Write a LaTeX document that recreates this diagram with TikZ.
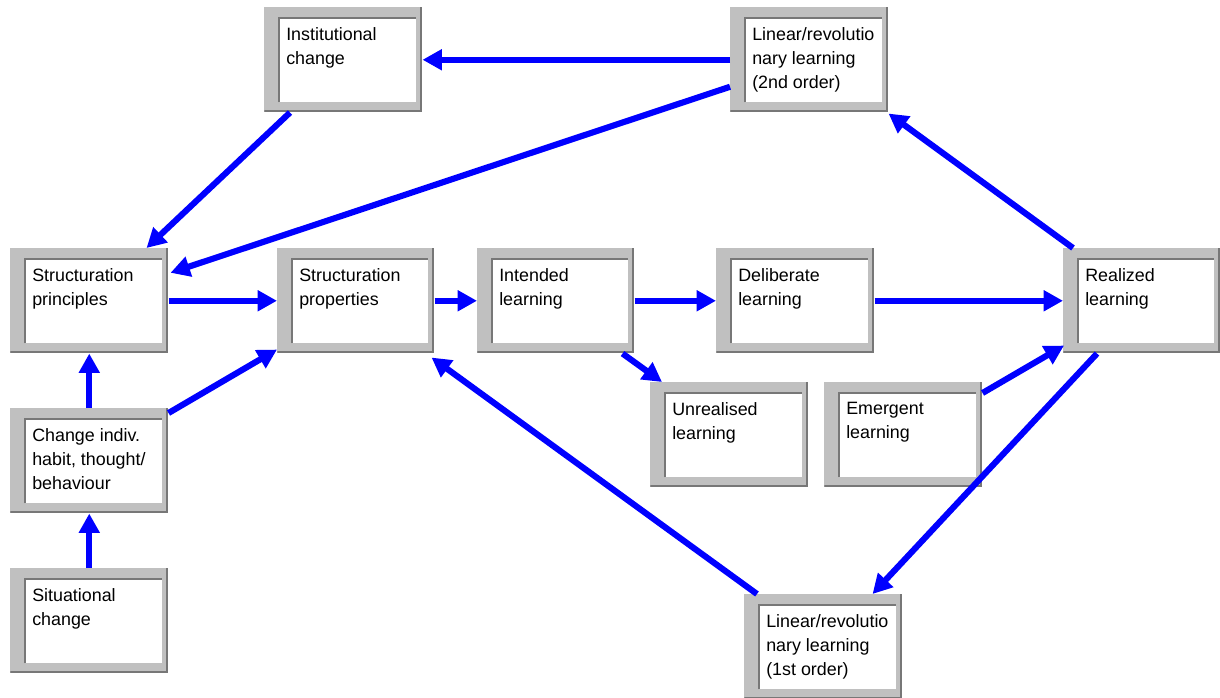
\documentclass[tikz,border=0pt]{standalone}
\usepackage{fontspec}
\setmainfont{Liberation Sans}
\usetikzlibrary{arrows.meta}
\definecolor{framegray}{HTML}{C0C0C0}
\definecolor{edgegray}{HTML}{777777}
\definecolor{arrowblue}{HTML}{0000FF}
% one unit = one pixel, y grows downwards
\tikzset{
  box/.style={rectangle, inner sep=0pt, anchor=north west, fill=framegray,
    minimum width=#1*0.75pt, minimum height=105*0.75pt,
    path picture={
      % sunken white panel
      \fill[white] ([shift={(14,10)}]path picture bounding box.north west)
        rectangle ([shift={(-6,-10)}]path picture bounding box.south east);
      \draw[edgegray, line width=1.5pt]
        ([shift={(14.5,-10)}]path picture bounding box.south west)
        -- ([shift={(14.5,10.5)}]path picture bounding box.north west)
        -- ([shift={(-6,10.5)}]path picture bounding box.north east);
      % raised outer edge
      \draw[edgegray, line width=1.5pt]
        ([shift={(-1,0)}]path picture bounding box.north east)
        -- ([shift={(-1,-1)}]path picture bounding box.south east)
        -- ([shift={(0,-1)}]path picture bounding box.south west);
    }},
  box/.default=158,
  boxtext/.style={anchor=north west, inner sep=0pt, align=left,
    font=\fontsize{13.4pt}{18pt}\selectfont},
  flow/.style={draw=arrowblue, line width=4.6pt,
    -{Triangle[length=14.5pt, width=15pt]}},
}
\newcommand\panel[4]{%
  \node[box=#3] (#1) at (#2) {};
  \node[boxtext] (#1-text) at ([shift={(22,20)}]#1.north west) {#4};
}
\begin{document}
\begin{tikzpicture}[x=0.75pt, y=-0.75pt]
  \useasboundingbox (0,0) rectangle (1220,697);
  \fill[white] (0,0) rectangle (1220,697);
  \clip (0,0) rectangle (1220,697);

  \panel{inst}{264,7}{158}{Institutional\\change}
  \panel{lintwo}{730,7}{158}{Linear/revolutio\\nary learning\\(2nd order)}
  \panel{sprin}{10,248}{158}{Structuration\\principles}
  \panel{sprop}{277,248}{157}{Structuration\\properties}
  \panel{intl}{477,248}{157}{Intended\\learning}
  \panel{delib}{716,248}{158}{Deliberate\\learning}
  \panel{real}{1063,248}{157}{Realized\\learning}
  \panel{unreal}{650,382}{158}{Unrealised\\learning}
  \panel{emerg}{824,382}{158}{Emergent\\learning}
  \panel{chg}{10,408}{158}{Change indiv.\\habit, thought/\\behaviour}
  \panel{sit}{10,568}{158}{Situational\\change}
  \panel{linone}{744,594}{158}{Linear/revolutio\\nary learning\\(1st order)}

  % connectors
  \draw[flow] (lintwo.west) -- (lintwo.west -| inst.east);
  \draw[flow] ([shift={(0,27)}]lintwo.west) -- ([shift={(2,-28)}]sprin.east);
  \draw[flow] ([shift={(26,0)}]inst.south west) -- ([shift={(-22,0)}]sprin.north east);
  \draw[flow] (sprin.east) -- (sprop.west);
  \draw[flow] (sprop.east) -- (intl.west);
  \draw[flow] (intl.east) -- (delib.west);
  \draw[flow] (delib.east) -- (real.west);
  \draw[flow] ([shift={(-12,0)}]intl.south east) -- ([shift={(12,0)}]unreal.north west);
  \draw[flow] ([shift={(0,11)}]emerg.north east) -- ([shift={(1,-8)}]real.south west);
  \draw[flow] ([shift={(34,0)}]real.south west) -- ([shift={(-30,0)}]linone.north east);
  \draw[flow] ([shift={(13,0)}]linone.north west) -- ([shift={(-3,4)}]sprop.south east);
  \draw[flow] ([shift={(10,0)}]real.north west) -- ([shift={(0,1)}]lintwo.south east);
  \draw[flow] (chg.north) -- (sprin.south);
  \draw[flow] (sit.north) -- (chg.south);
  \draw[flow] ([shift={(0,5)}]chg.north east) -- ([shift={(0,-4)}]sprop.south west);
\end{tikzpicture}
\end{document}
